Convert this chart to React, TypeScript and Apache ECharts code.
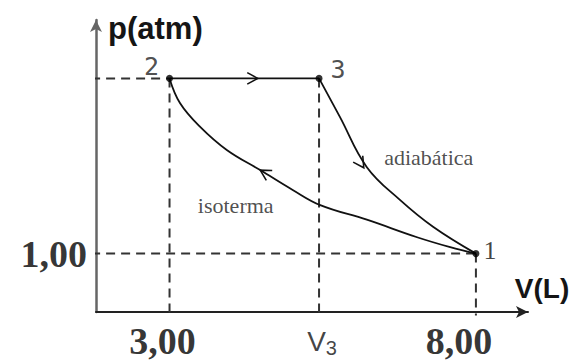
import React, { useEffect, useRef } from "react";
import * as echarts from "echarts";

// Cycle states (V in L, p in atm)
const V2 = 3.0;
const V3 = 5.44;
const V1 = 8.0;
const P_HIGH = 4.0;
const P_LOW = 1.0;

const isobar: number[][] = [[V2, P_HIGH], [V3, P_HIGH]];
const isotherm: number[][] = [
  [3.0, 4.0], [3.17, 3.58], [3.5, 3.17], [3.94, 2.77], [4.48, 2.43], [5.01, 2.09],
  [5.46, 1.83], [6.22, 1.58], [7.04, 1.28], [7.58, 1.11], [8.0, 1.0],
];
const adiabatic: number[][] = [
  [5.44, 4.0], [5.78, 3.34], [6.22, 2.48], [6.76, 1.92], [7.3, 1.46], [8.0, 1.0],
];
// arrows: tip V, tip p, back V, back p
const arrows: number[][] = [
  [4.44, 4.0, 4.2, 4.0],
  [4.48, 2.43, 4.8, 2.23],
  [6.17, 2.47, 5.98, 2.77],
];
const statePoints: { name: string; value: number[] }[] = [
  { name: "2", value: [V2, P_HIGH] },
  { name: "3", value: [V3, P_HIGH] },
  { name: "1", value: [V1, P_LOW] },
];
const xTickLabels: { text: string; v: number }[] = [
  { text: "3,00", v: V2 },
  { text: "V3", v: V3 },
  { text: "8,00", v: V1 },
];
const yTickLabels: { text: string; p: number }[] = [{ text: "1,00", p: P_LOW }];
const curveNames: { text: string; value: number[] }[] = [
  { text: "adiabática", value: [7.23, 2.65] },
  { text: "isoterma", value: [4.08, 1.83] },
];

const X_MIN = 1.8;
const X_MAX = 8.85;
const Y_MIN = 0;
const Y_MAX = 5;

export default function App() {
  const ref = useRef<HTMLDivElement>(null);
  useEffect(() => {
    document.body.style.margin = "0";
    if (!ref.current) return;
    const chart = echarts.init(ref.current, null, { renderer: "svg" });
    const dashLine = (data: number[][]) => ({
      type: "line",
      data,
      symbol: "none",
      clip: false,
      lineStyle: { color: "#333", width: 2, type: [9, 6] },
      z: 1,
      silent: true,
    });
    const option: any = {
      animation: false,
      grid: { left: 96, right: 57, top: 20, bottom: 50 },
      xAxis: {
        type: "value",
        min: X_MIN,
        max: X_MAX,
        name: "V(L)",
        nameLocation: "end",
        nameGap: 14,
        nameTextStyle: {
          fontFamily: "Liberation Sans",
          fontSize: 28,
          fontWeight: "bold",
          color: "#151515",
          align: "center",
          verticalAlign: "bottom",
          padding: [0, 0, 10, 0],
        },
        axisLine: { lineStyle: { color: "#222", width: 2 }, symbol: ["none", "arrow"], symbolSize: [9, 12] },
        axisTick: { show: false },
        axisLabel: { show: false },
        splitLine: { show: false },
      },
      yAxis: {
        type: "value",
        min: Y_MIN,
        max: Y_MAX,
        name: "p(atm)",
        nameLocation: "end",
        nameGap: -8,
        nameTextStyle: {
          fontFamily: "Liberation Sans",
          fontSize: 31,
          fontWeight: "bold",
          color: "#151515",
          align: "left",
          verticalAlign: "middle",
          padding: [0, 0, 0, 12],
        },
        axisLine: { lineStyle: { color: "#666", width: 2.5 }, symbol: ["none", "arrow"], symbolSize: [9, 12] },
        axisTick: { show: false },
        axisLabel: { show: false },
        splitLine: { show: false },
      },
      series: [
        dashLine([[1.72, P_HIGH], [V2, P_HIGH]]),
        dashLine([[1.72, P_LOW], [V1, P_LOW]]),
        dashLine([[V2, P_HIGH], [V2, -0.06]]),
        dashLine([[V3, P_HIGH], [V3, -0.06]]),
        dashLine([[V1, P_LOW], [V1, -0.06]]),
        {
          type: "line",
          data: isobar,
          symbol: "none",
          lineStyle: { color: "#111", width: 1.8 },
          z: 3,
        },
        {
          type: "line",
          data: isotherm,
          smooth: 0.4,
          symbol: "none",
          lineStyle: { color: "#111", width: 1.8 },
          z: 3,
        },
        {
          type: "line",
          data: adiabatic,
          smooth: 0.4,
          symbol: "none",
          lineStyle: { color: "#111", width: 1.8 },
          z: 3,
        },
        {
          type: "custom",
          data: arrows,
          encode: { x: 0, y: 1 },
          z: 4,
          renderItem: (_params: any, api: any) => {
            const tip = api.coord([api.value(0), api.value(1)]);
            const back = api.coord([api.value(2), api.value(3)]);
            const ang = Math.atan2(tip[1] - back[1], tip[0] - back[0]);
            const L = 12;
            const w = 0.5;
            const a = [tip[0] - L * Math.cos(ang - w), tip[1] - L * Math.sin(ang - w)];
            const b = [tip[0] - L * Math.cos(ang + w), tip[1] - L * Math.sin(ang + w)];
            return {
              type: "polyline",
              shape: { points: [a, tip, b] },
              style: { stroke: "#111", lineWidth: 1.6, fill: null },
            };
          },
        },
        {
          type: "scatter",
          data: statePoints,
          symbolSize: 7,
          itemStyle: { color: "#000" },
          z: 5,
          label: {
            show: true,
            formatter: (p: any) => (p.name === "1" ? "{s|1}" : "{m|" + p.name + "}"),
            position: "inside",
            rich: {
              s: { fontFamily: "Liberation Serif", fontSize: 26, color: "#111" },
              m: { fontFamily: "DejaVu Sans Mono", fontSize: 25, color: "#222" },
            },
          },
          labelLayout: (p: any) => {
            const off: Record<number, number[]> = { 0: [-18, -12], 1: [19, -9], 2: [14, -3] };
            const o = off[p.dataIndex] || [0, 0];
            return { dx: o[0], dy: o[1] };
          },
        },
        {
          type: "scatter",
          data: xTickLabels.map((t) => ({ name: t.text, value: [t.v, 0] })),
          symbolSize: 0,
          silent: true,
          label: {
            show: true,
            position: "inside",
            formatter: (p: any) => (p.name === "V3" ? "{v|V}{s|3}" : "{b|" + p.name + "}"),
            rich: {
              b: { fontFamily: "Liberation Serif", fontWeight: "bold", fontSize: 38, color: "#000" },
              v: { fontFamily: "Liberation Sans", fontSize: 28, color: "#111" },
              s: { fontFamily: "Liberation Sans", fontSize: 20, color: "#111", verticalAlign: "bottom", padding: [14, 0, 0, 0] },
            },
          },
          labelLayout: (p: any) => {
            const off: Record<number, number[]> = { 0: [-7, 29], 1: [3, 29], 2: [-17, 29] };
            const o = off[p.dataIndex] || [0, 0];
            return { dx: o[0], dy: o[1] };
          },
        },
        {
          type: "scatter",
          data: yTickLabels.map((t) => ({ name: t.text, value: [X_MIN, t.p] })),
          symbolSize: 0,
          silent: true,
          label: {
            show: true,
            position: "left",
            distance: 9,
            formatter: (p: any) => p.name,
            fontFamily: "Liberation Serif",
            fontWeight: "bold",
            fontSize: 38,
            color: "#000",
          },
        },
        {
          type: "scatter",
          data: curveNames.map((c) => ({ name: c.text, value: c.value })),
          symbolSize: 0,
          silent: true,
          label: {
            show: true,
            position: "inside",
            formatter: (p: any) => p.name,
            fontFamily: "Liberation Serif",
            fontSize: 22,
            color: "#222",
          },
        },
      ],
    };
    chart.setOption(option);
    return () => chart.dispose();
  }, []);
  return <div ref={ref} style={{ width: 585, height: 362, background: "#fff" }} />;
}
